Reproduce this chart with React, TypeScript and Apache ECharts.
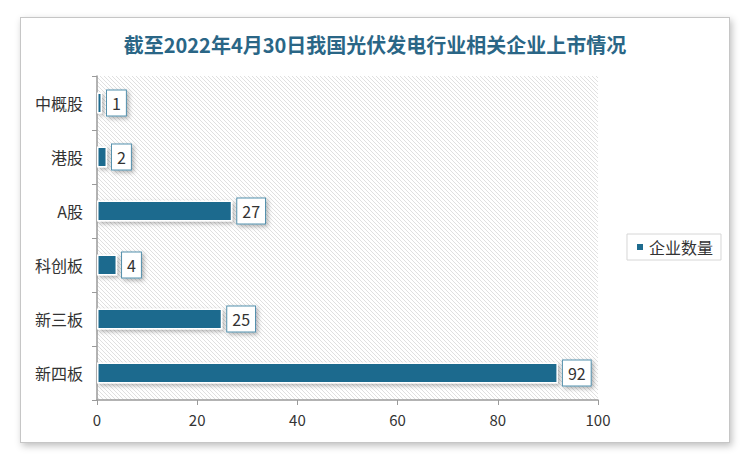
import React, { useEffect, useRef } from "react";
import * as echarts from "echarts";

const title = "截至2022年4月30日我国光伏发电行业相关企业上市情况";
const categories = ["中概股", "港股", "A股", "科创板", "新三板", "新四板"];
const values = [1, 2, 27, 4, 25, 92];
const seriesName = "企业数量";

const hatchSvg =
  "<svg xmlns='http://www.w3.org/2000/svg' width='4' height='4'>" +
  "<rect width='4' height='4' fill='#ffffff'/>" +
  "<path d='M0,0 L4,4 M-1,3 L1,5 M3,-1 L5,1' stroke='#e0e0e0' stroke-width='1'/></svg>";
const hatchUrl = "data:image/svg+xml;charset=utf-8," + encodeURIComponent(hatchSvg);

export default function App() {
  const ref = useRef<HTMLDivElement>(null);
  useEffect(() => {
    if (!ref.current) return;
    const chart = echarts.init(ref.current, undefined, { renderer: "svg" });
    const font = "'Noto Sans CJK SC', 'Noto Sans', sans-serif";
    chart.setOption({
      animation: false,
      textStyle: { fontFamily: font },
      title: {
        text: title,
        left: "center",
        top: 29,
        textStyle: { color: "#2a6686", fontSize: 20, fontWeight: "bold", fontFamily: font },
      },
      legend: {
        data: [seriesName],
        orient: "vertical",
        right: 29,
        top: 234,
        icon: "rect",
        itemWidth: 8,
        itemHeight: 8,
        itemGap: 4,
        padding: [5, 8, 5, 8],
        borderColor: "#d6d6d6",
        borderWidth: 1,
        textStyle: { fontSize: 16, color: "#333", fontFamily: font },
      },
      grid: {
        left: 97,
        right: 152,
        top: 76,
        bottom: 60,
        show: true,
        borderWidth: 0,
        backgroundColor: {
          image: hatchUrl,
          repeat: "repeat",
          imageWidth: 4,
          imageHeight: 4,
        },
      },
      xAxis: {
        type: "value",
        min: 0,
        max: 100,
        interval: 20,
        axisLine: { show: true, lineStyle: { color: "#9a9a9a", width: 1.5 } },
        axisTick: { show: true, length: 5, lineStyle: { color: "#9a9a9a" } },
        splitLine: { show: false },
        axisLabel: { color: "#333", fontSize: 15, margin: 12, fontFamily: font },
      },
      yAxis: {
        type: "category",
        data: categories,
        inverse: true,
        axisLine: { show: true, lineStyle: { color: "#9a9a9a", width: 1.5 } },
        axisTick: { show: true, length: 5, lineStyle: { color: "#9a9a9a" } },
        axisLabel: { color: "#333", fontSize: 16, margin: 14, fontFamily: font },
      },
      series: [
        {
          name: seriesName,
          type: "bar",
          data: values,
          barWidth: 21,
          itemStyle: {
            color: "#1e6b8e",
            borderColor: "#ffffff",
            borderWidth: 1.5,
            shadowBlur: 4,
            shadowColor: "rgba(0,0,0,0.3)",
            shadowOffsetX: 2,
            shadowOffsetY: 2,
          },
          label: {
            show: true,
            position: "right",
            distance: 5,
            color: "#333",
            fontSize: 16,
            fontFamily: font,
            backgroundColor: "#ffffff",
            borderColor: "#5591ad",
            borderWidth: 1,
            padding: [5, 5, 4, 5],
            shadowBlur: 4,
            shadowColor: "rgba(0,0,0,0.3)",
            shadowOffsetX: 2,
            shadowOffsetY: 2,
          },
        },
      ],
    });
    return () => chart.dispose();
  }, []);

  return (
    <div style={{ position: "absolute", left: 0, top: 0, width: 750, height: 460, background: "#ffffff" }}>
      <div
        style={{
          position: "absolute",
          left: 20,
          top: 17,
          width: 708,
          height: 424,
          border: "1px solid #c6c6c6",
          boxShadow: "2px 3px 7px rgba(0,0,0,0.25)",
          background: "#ffffff",
        }}
      />
      <div ref={ref} style={{ position: "absolute", left: 0, top: 0, width: 750, height: 460 }} />
    </div>
  );
}
